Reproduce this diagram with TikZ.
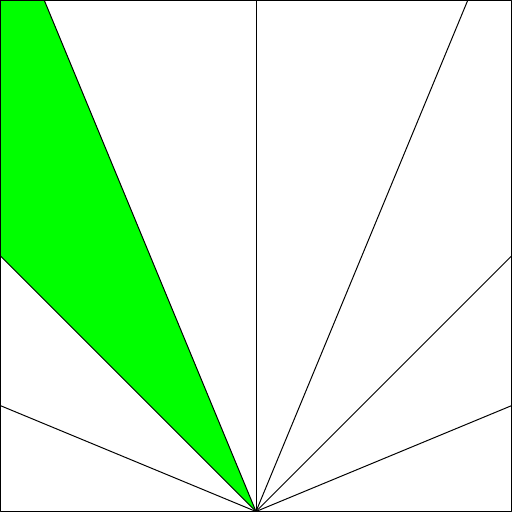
\documentclass[tikz,border=0pt]{standalone}
\usetikzlibrary{calc}
\definecolor{SectorGreen}{HTML}{00FF00}
\begin{document}
\begin{tikzpicture}[line cap=round,line join=round,line width=0.55pt]
  \coordinate (O) at (5,0);\coordinate (L) at (0,5);\coordinate (TL) at (0,10);
  \coordinate (T) at ($(O)+(112.5:{10/sin(112.5)})$);
  \fill[SectorGreen] (O)--(L)--(TL)--(T)--cycle;
  \begin{scope}
    \clip (0,0) rectangle (10,10);
    \foreach \k in {1,...,7} \draw (O)--++(22.5*\k:12);
  \end{scope}
  \draw (0,0) rectangle (10,10);
\end{tikzpicture}
\end{document}
